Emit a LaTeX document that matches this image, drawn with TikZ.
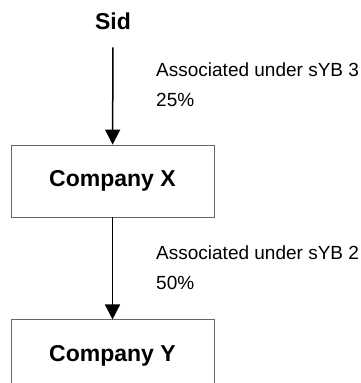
\documentclass[tikz,border=0pt]{standalone}
\usepackage{fontspec}
\setmainfont{Liberation Sans}
\usetikzlibrary{positioning, arrows.meta}

\begin{document}
\begin{tikzpicture}[x=1pt, y=1pt]
    % styles
    \tikzset{
        box/.style   = {rectangle, draw=black!60, line width=0.9pt, minimum width=203pt, minimum height=72pt, font=\fontsize{23}{28}\selectfont\bfseries},
        owner/.style = {inner sep=0pt, font=\fontsize{23}{28}\selectfont\bfseries},
        share/.style = {anchor=north west, inner sep=0pt, align=left, font=\fontsize{19}{30}\selectfont},
        link/.style  = {draw, line width=1.5pt, -{Triangle[length=15pt, width=15pt]}}
    }
    \useasboundingbox (0,0) rectangle (360,-383);

    % owner and companies
    \node [owner, anchor=base] (sid) at (113,-29) {Sid};
    \node [box] (compx) at (112.5,-181) {Company X};
    \node [box, below=102pt of compx] (compy) {Company Y};

    % holdings
    \node [share] (sharex) at (156,-63) {Associated under sYB 3\\25\%};
    \node [share] (sharey) at (156,-246) {Associated under sYB 2\\50\%};

    % links
    \path [link, shorten <=18pt] (sid) -- (compx);
    \path [link] (compx) -- (compy);
\end{tikzpicture}
\end{document}
